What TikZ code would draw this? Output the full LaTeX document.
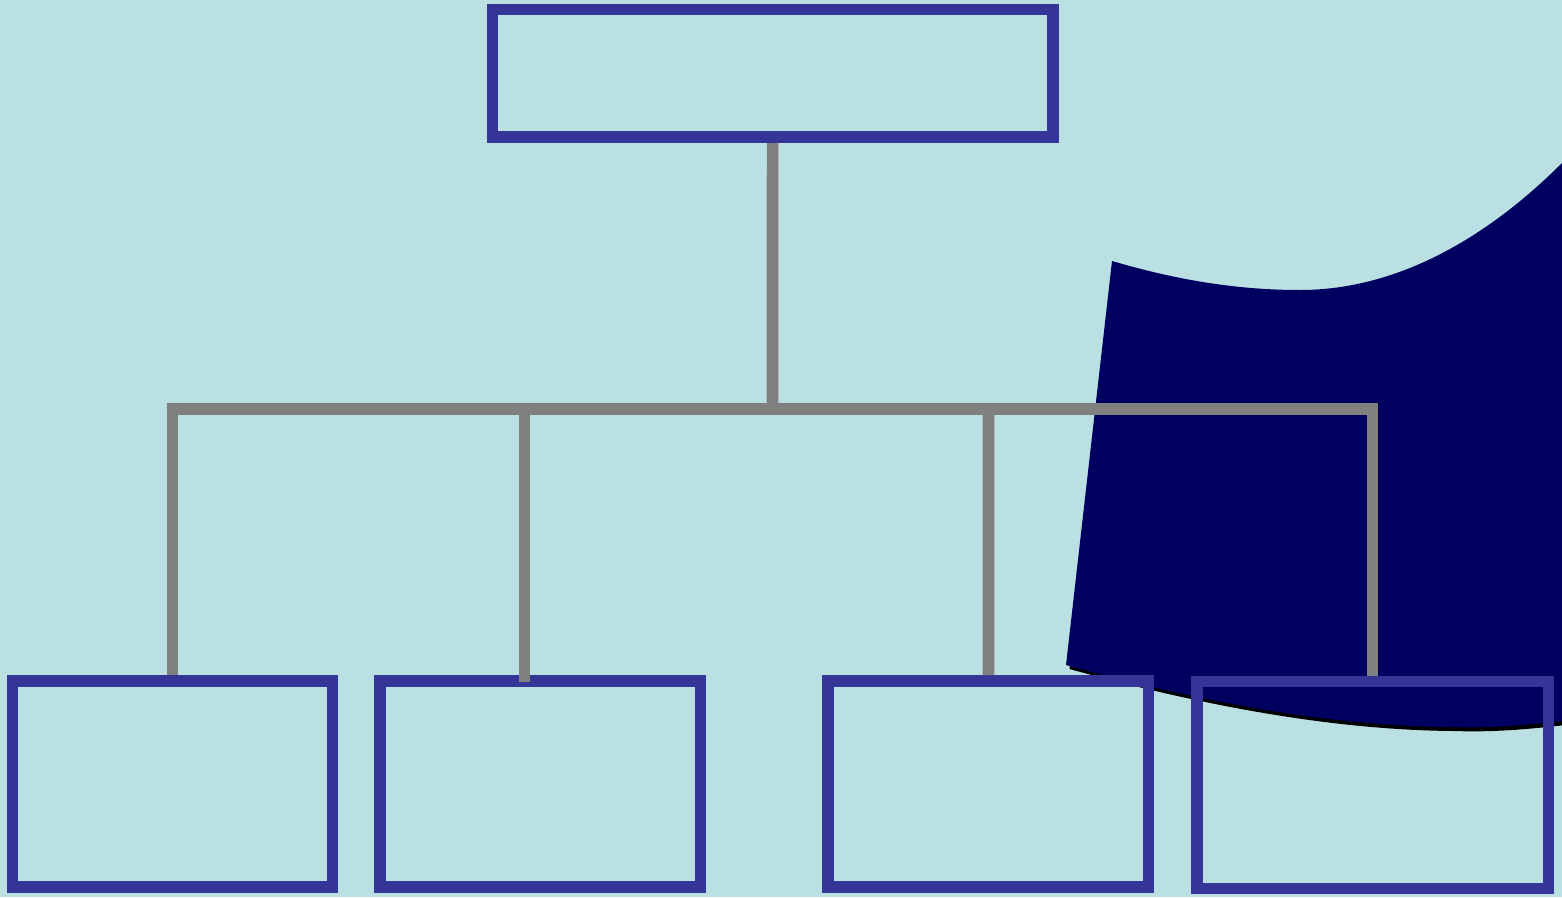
\documentclass[tikz,border=0pt]{standalone}
\definecolor{bgblue}{RGB}{187,224,227}
\definecolor{boxblue}{RGB}{53,53,151}
\definecolor{conngray}{RGB}{128,128,128}
\definecolor{navy}{RGB}{0,0,96}
\tikzset{
  orgbox/.style={draw=boxblue, line width=11.7pt, inner sep=0pt, fill=none},
  conn/.style={draw=conngray, line width=11.7pt},
}
\begin{document}
\begin{tikzpicture}[x=1pt,y=-1pt]
\fill[bgblue] (0,0) rectangle (1562,897);
\useasboundingbox (0,0) rectangle (1562,897);
\begin{scope}
\clip (0,0) rectangle (1562,897);
% shadow of the navy shape
\fill[black, shift={(3.5pt,-4pt)}] (1112,261) .. controls (1180,281) and (1240,290) .. (1300,290)
  .. controls (1400,290) and (1490,235) .. (1562,163) -- (1600,120) -- (1600,718)
  .. controls (1585,720) and (1575,721) .. (1562,721)
  .. controls (1510,727) and (1480,728) .. (1450,727)
  .. controls (1330,726) and (1200,702) .. (1066,665) -- cycle;
\fill[navy] (1112,261) .. controls (1180,281) and (1240,290) .. (1300,290)
  .. controls (1400,290) and (1490,235) .. (1562,163) -- (1600,120) -- (1600,718)
  .. controls (1585,720) and (1575,721) .. (1562,721)
  .. controls (1510,727) and (1480,728) .. (1450,727)
  .. controls (1330,726) and (1200,702) .. (1066,665) -- cycle;
\end{scope}
% boxes
\node[orgbox, minimum width=560.2pt, minimum height=127.7pt] (top) at (772.6,73.35) {};
\node[orgbox, minimum width=320pt, minimum height=206pt] (b1) at (172.5,784) {};
\node[orgbox, minimum width=320.5pt, minimum height=206pt] (b2) at (540.25,784) {};
\node[orgbox, minimum width=320.2pt, minimum height=206pt] (b3) at (988.4,784) {};
\node[orgbox, minimum width=351.8pt, minimum height=207pt] (b4) at (1372.6,785) {};
% connectors
\coordinate (jl) at (172.5,409);
\coordinate (jr) at (1372.6,409);
\coordinate (jc) at (772.5,409);
\coordinate (j2) at (524.5,409);
\coordinate (e2) at (524.5,681.7);
\coordinate (j3) at (988.5,409);
\draw[conn] (b1.north) -- (jl) -- (jr) -- (b4.north);
\draw[conn] (top.south) -- (jc);
\draw[conn] (j2) -- (e2);
\draw[conn] (j3) -- (b3.north);
\draw[conn, line width=12.5pt] (jc) -- (j3);
\end{tikzpicture}
\end{document}
